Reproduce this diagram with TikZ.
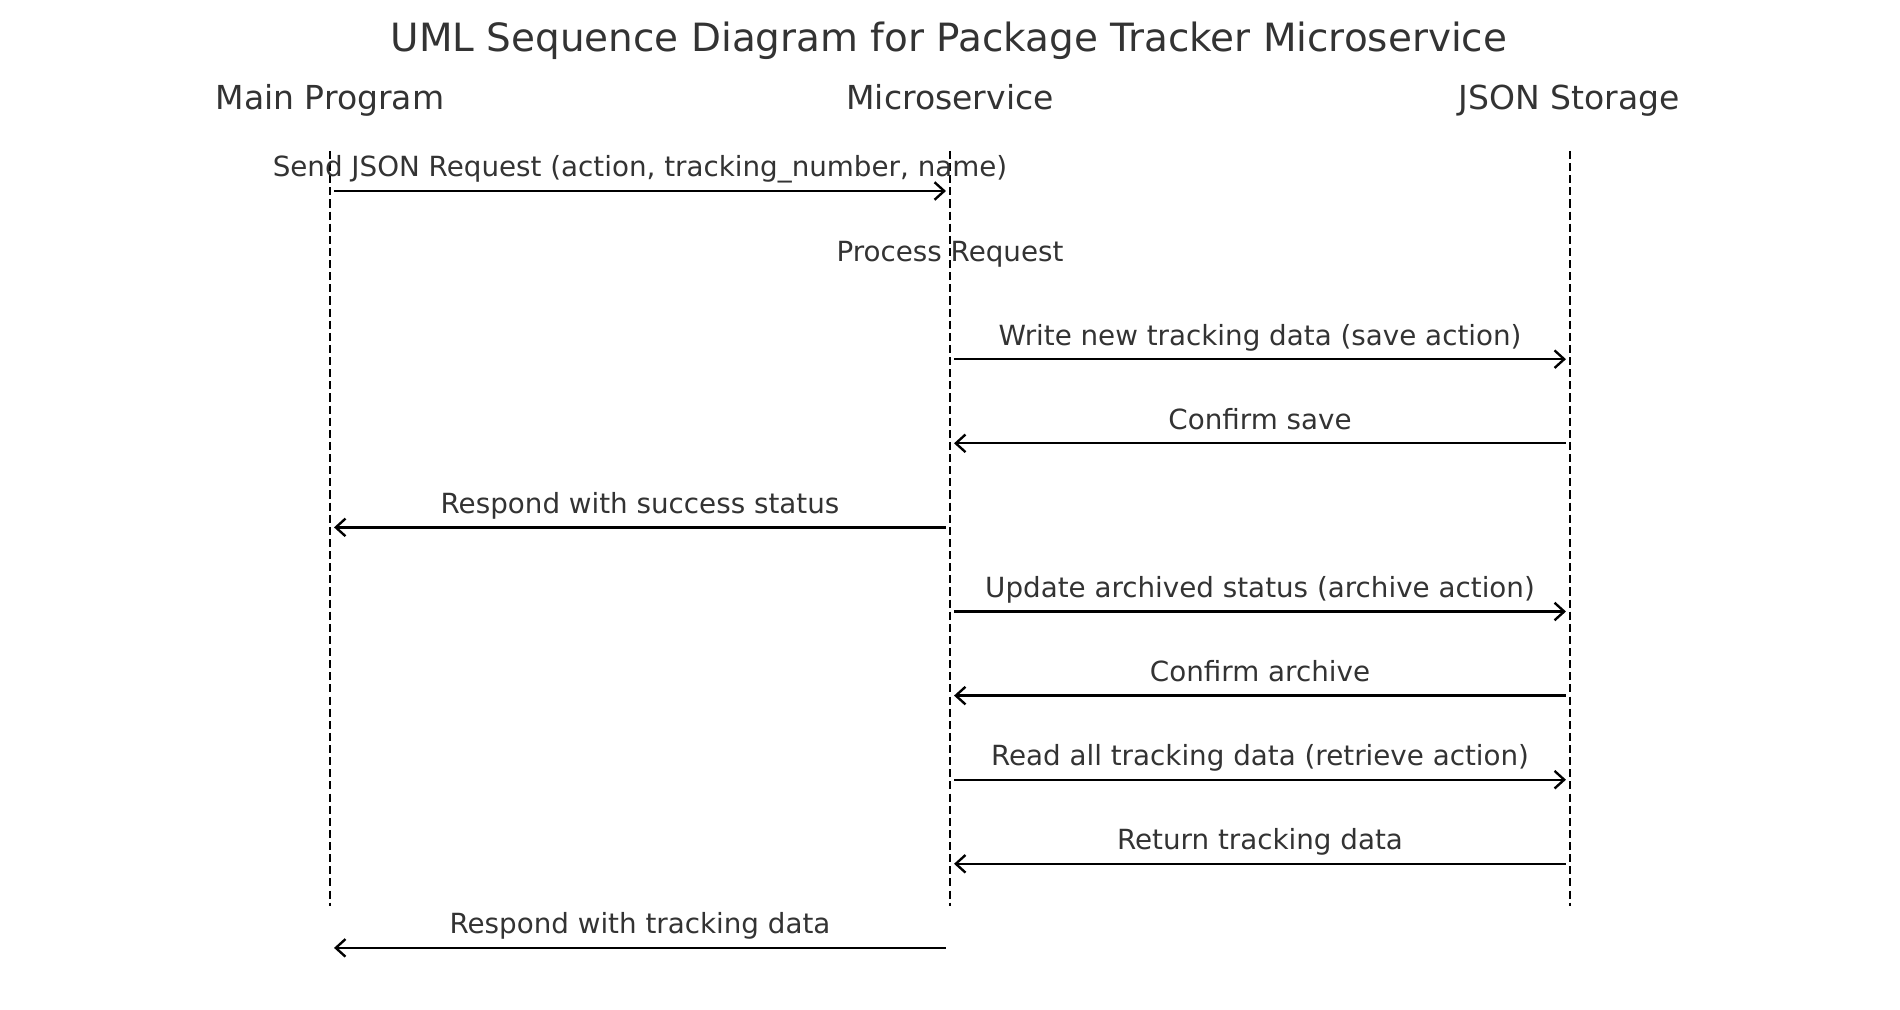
\documentclass[tikz,border=0pt]{standalone}
\usepackage{fontspec}
\setmainfont{DejaVu Sans}
\usetikzlibrary{arrows.meta}
\definecolor{txtgray}{HTML}{333333}
\begin{document}
\begin{tikzpicture}[x=0.02cm,y=-0.02cm,
  >={Straight Barb[length=5.5pt,width=10pt]},
  lifeline/.style={line width=1.35pt,dash pattern=on 4.6pt off 2.3pt},
  msg/.style={->,line width=1.35pt,shorten <=2.3pt,shorten >=2.3pt},
  lbl/.style={text=txtgray,font=\fontsize{15.8}{18}\selectfont,anchor=base,yshift=8pt},
  head/.style={text=txtgray,font=\fontsize{18.8}{22}\selectfont,anchor=base}]
  \useasboundingbox (0,0) rectangle (1900,1010);

  % Title
  \node[text=txtgray,font=\fontsize{22.15}{26}\selectfont,anchor=base] (title) at (949,52)
    {UML Sequence Diagram for Package Tracker Microservice};

  % Participants
  \node[head] (main) at (330,110) {Main Program};
  \node[head] (micro) at (950,110) {Microservice};
  \node[head] (store) at (1569,110) {JSON Storage};

  % Lifelines
  \coordinate (mainTop) at (330,151);
  \coordinate (mainBot) at (330,906);
  \coordinate (microTop) at (950,151);
  \coordinate (microBot) at (950,906);
  \coordinate (storeTop) at (1570,151);
  \coordinate (storeBot) at (1570,906);
  \draw[lifeline] (mainTop) -- (mainBot);
  \draw[lifeline] (microTop) -- (microBot);
  \draw[lifeline] (storeTop) -- (storeBot);

  % Rows
  \foreach \i in {0,...,9}
    \coordinate (r\i) at (0,{191+84.1*\i});

  % Messages
  \draw[msg] (mainTop |- r0) -- (microTop |- r0)
    node[lbl,midway] (m0) {Send JSON Request (action, tracking\_number, name)};
  \node[lbl] (proc) at (microTop |- r1) {Process Request};
  \draw[msg] (microTop |- r2) -- (storeTop |- r2)
    node[lbl,midway] (m2) {Write new tracking data (save action)};
  \draw[msg] (storeTop |- r3) -- (microTop |- r3)
    node[lbl,midway] (m3) {Confirm save};
  \draw[msg] (microTop |- r4) -- (mainTop |- r4)
    node[lbl,midway] (m4) {Respond with success status};
  \draw[msg] (microTop |- r5) -- (storeTop |- r5)
    node[lbl,midway] (m5) {Update archived status (archive action)};
  \draw[msg] (storeTop |- r6) -- (microTop |- r6)
    node[lbl,midway] (m6) {Confirm archive};
  \draw[msg] (microTop |- r7) -- (storeTop |- r7)
    node[lbl,midway] (m7) {Read all tracking data (retrieve action)};
  \draw[msg] (storeTop |- r8) -- (microTop |- r8)
    node[lbl,midway] (m8) {Return tracking data};
  \draw[msg] (microTop |- r9) -- (mainTop |- r9)
    node[lbl,midway] (m9) {Respond with tracking data};
\end{tikzpicture}
\end{document}
